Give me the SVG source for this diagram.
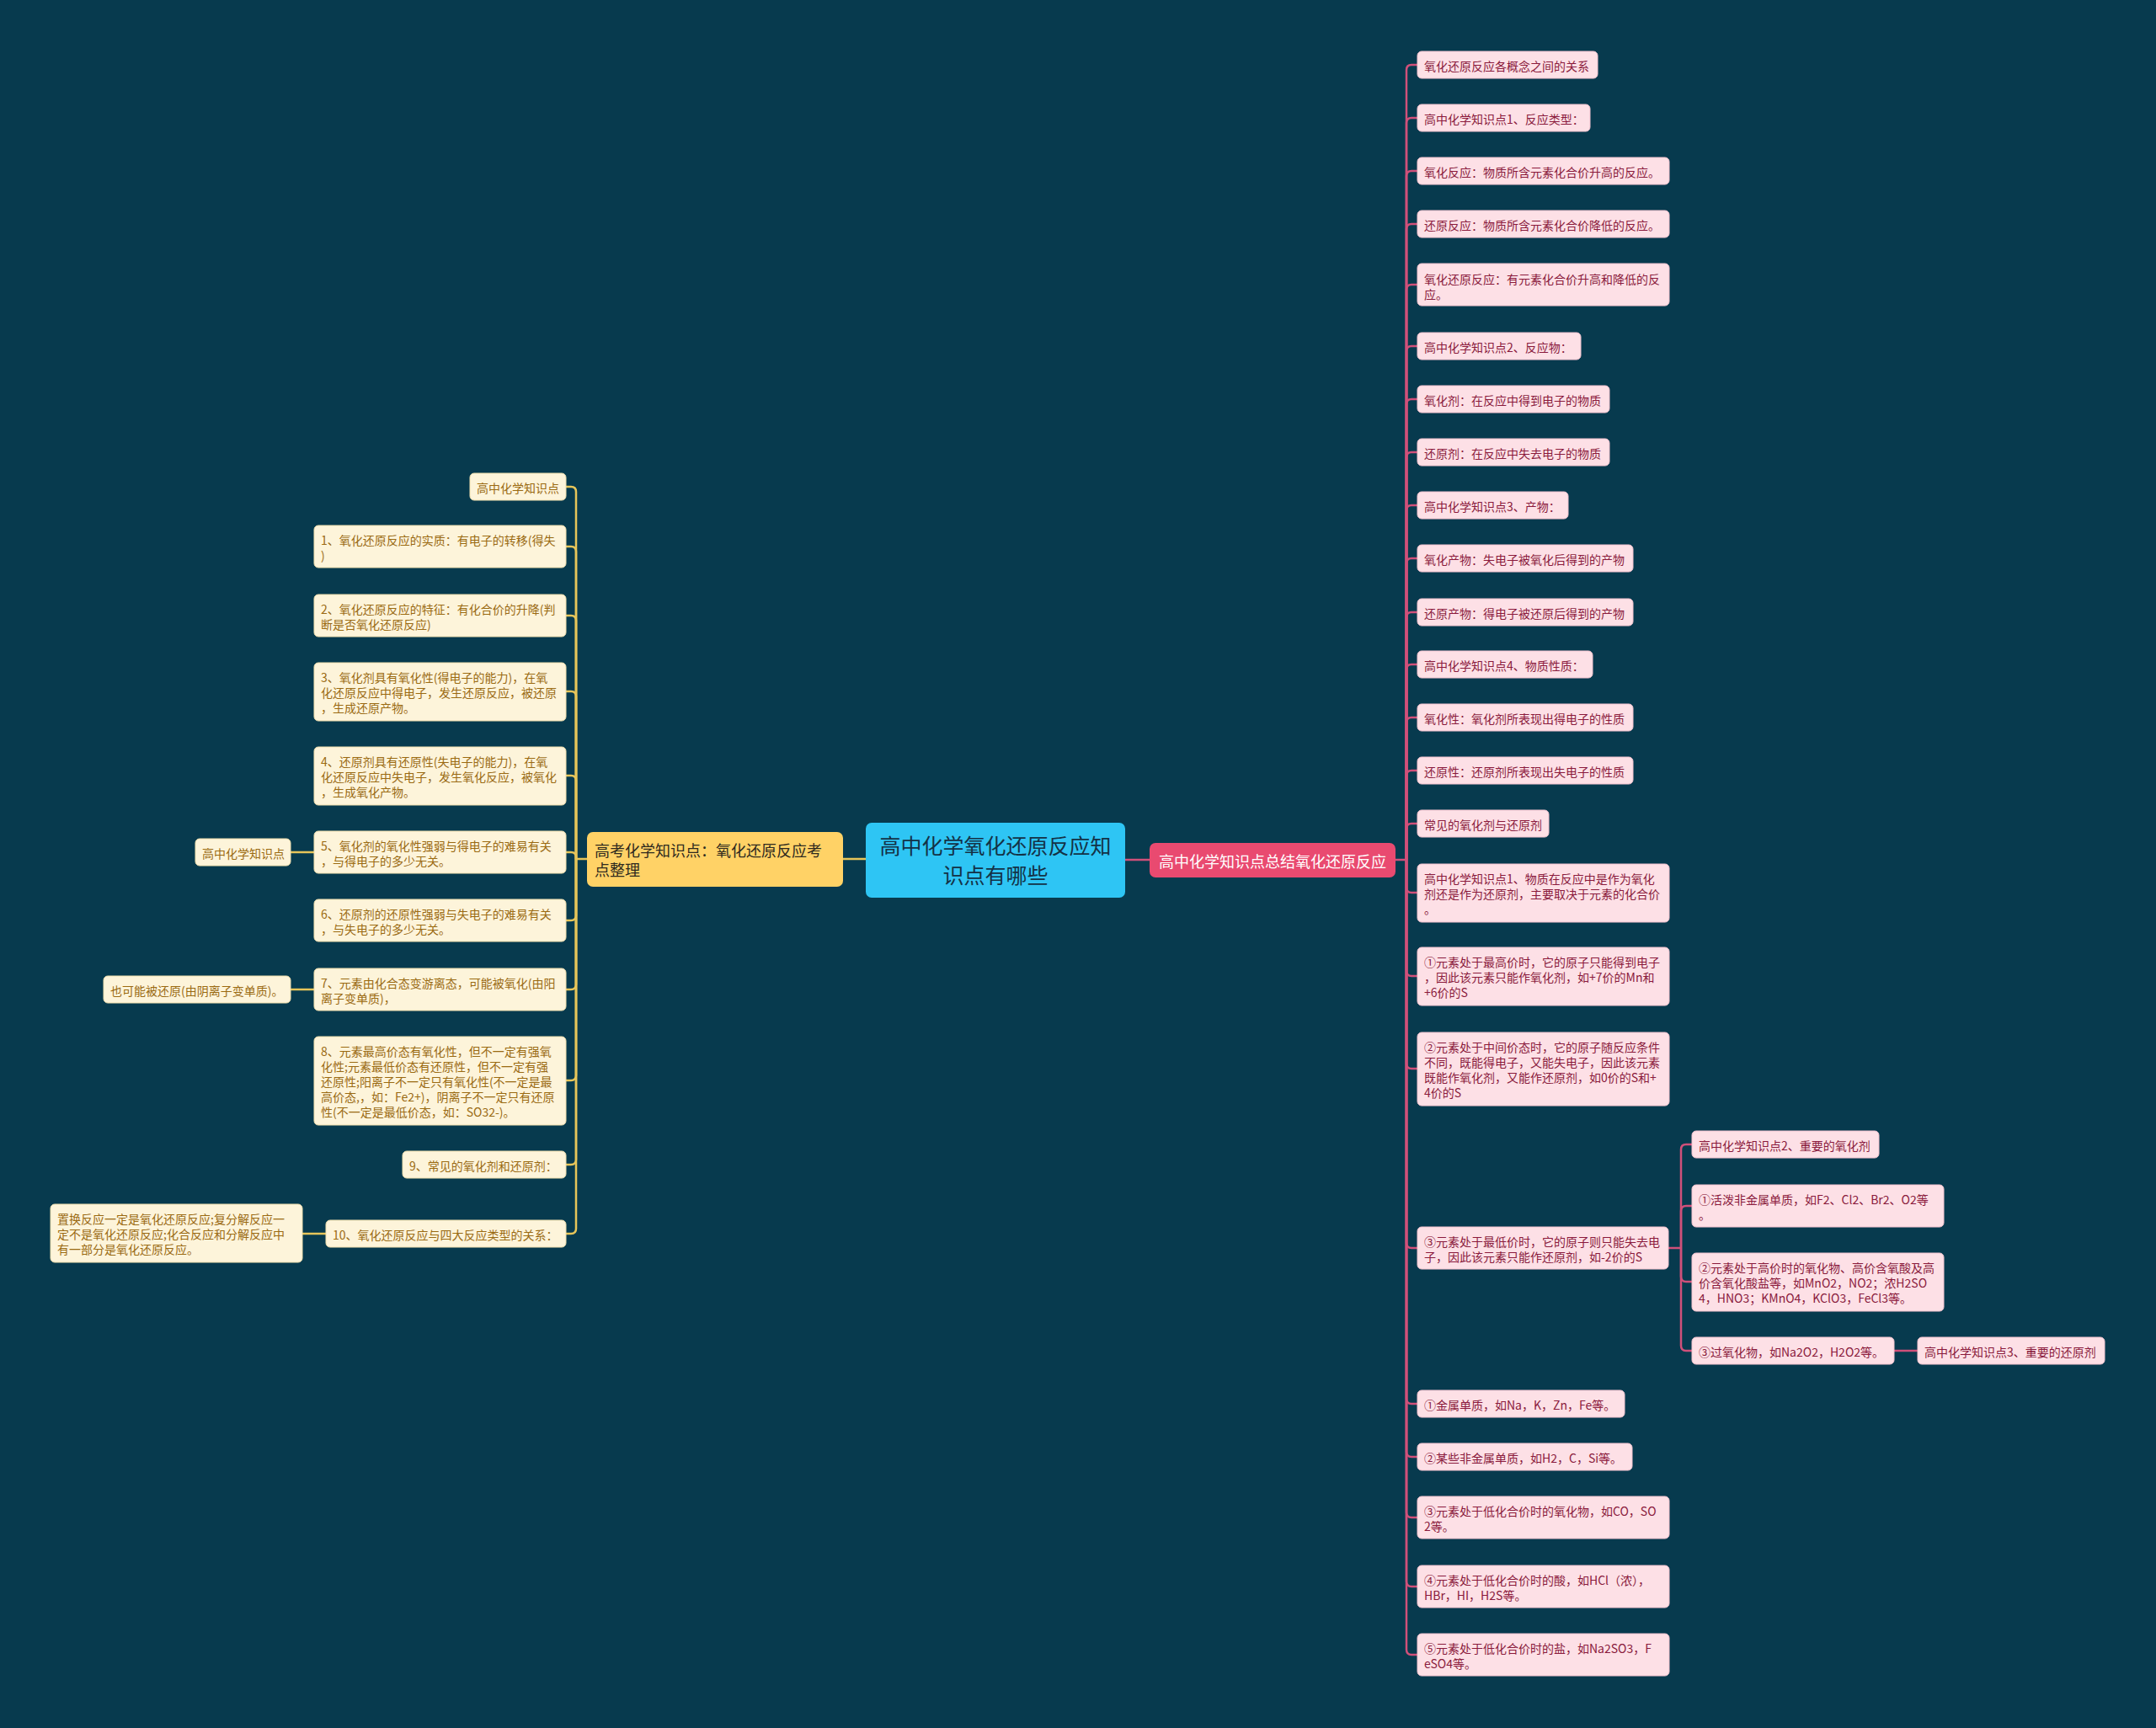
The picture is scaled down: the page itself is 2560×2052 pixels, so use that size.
<svg xmlns="http://www.w3.org/2000/svg" width="2560" height="2052" viewBox="0 0 2560 2052">
<style>
text{font-family:"Noto Sans CJK SC","Noto Sans",sans-serif;dominant-baseline:central}
.rn rect{fill:#fde0e6;stroke:#f3c3cf;stroke-width:1}
.rn text{fill:#8a1a3c;font-size:14px}
.ln rect{fill:#fdf4da;stroke:#f0dfae;stroke-width:1}
.ln text{fill:#9a6a12;font-size:14px}
.cr{fill:none;stroke:#d0507a;stroke-width:2.5}
.cl{fill:none;stroke:#e6c55a;stroke-width:2.5}
</style>
<rect x="0" y="0" width="2560" height="2052" fill="#073a4e"/>
<g id="connectors">
<path class="cl" d="M1001 1020 H1028"/>
<path class="cr" d="M1336 1021 H1365"/>
<path class="cr" d="M1657 1021 H1670"/>
<path class="cr" d="M1670 1021 V83 Q1670 77 1676 77 H1683"/>
<path class="cr" d="M1670 1021 V146 Q1670 140 1676 140 H1683"/>
<path class="cr" d="M1670 1021 V209 Q1670 203 1676 203 H1683"/>
<path class="cr" d="M1670 1021 V272 Q1670 266 1676 266 H1683"/>
<path class="cr" d="M1670 1021 V344 Q1670 338 1676 338 H1683"/>
<path class="cr" d="M1670 1021 V417 Q1670 411 1676 411 H1683"/>
<path class="cr" d="M1670 1021 V480 Q1670 474 1676 474 H1683"/>
<path class="cr" d="M1670 1021 V543 Q1670 537 1676 537 H1683"/>
<path class="cr" d="M1670 1021 V606 Q1670 600 1676 600 H1683"/>
<path class="cr" d="M1670 1021 V669 Q1670 663 1676 663 H1683"/>
<path class="cr" d="M1670 1021 V733 Q1670 727 1676 727 H1683"/>
<path class="cr" d="M1670 1021 V795 Q1670 789 1676 789 H1683"/>
<path class="cr" d="M1670 1021 V858 Q1670 852 1676 852 H1683"/>
<path class="cr" d="M1670 1021 V921 Q1670 915 1676 915 H1683"/>
<path class="cr" d="M1670 1021 V984 Q1670 978 1676 978 H1683"/>
<path class="cr" d="M1670 1021 V1054 Q1670 1060 1676 1060 H1683"/>
<path class="cr" d="M1670 1021 V1153 Q1670 1159 1676 1159 H1683"/>
<path class="cr" d="M1670 1021 V1263 Q1670 1269 1676 1269 H1683"/>
<path class="cr" d="M1670 1021 V1476 Q1670 1482 1676 1482 H1683"/>
<path class="cr" d="M1670 1021 V1661 Q1670 1667 1676 1667 H1683"/>
<path class="cr" d="M1670 1021 V1724 Q1670 1730 1676 1730 H1683"/>
<path class="cr" d="M1670 1021 V1796 Q1670 1802 1676 1802 H1683"/>
<path class="cr" d="M1670 1021 V1878 Q1670 1884 1676 1884 H1683"/>
<path class="cr" d="M1670 1021 V1959 Q1670 1965 1676 1965 H1683"/>
<path class="cr" d="M1981 1482 H1996"/>
<path class="cr" d="M1996 1482 V1365 Q1996 1359 2002 1359 H2009"/>
<path class="cr" d="M1996 1482 V1438 Q1996 1432 2002 1432 H2009"/>
<path class="cr" d="M1996 1482 V1516 Q1996 1522 2002 1522 H2009"/>
<path class="cr" d="M1996 1482 V1598 Q1996 1604 2002 1604 H2009"/>
<path class="cr" d="M2249 1604 H2277"/>
<path class="cl" d="M697 1020 H684"/>
<path class="cl" d="M684 1020 V584 Q684 578 678 578 H672"/>
<path class="cl" d="M684 1020 V655 Q684 649 678 649 H672"/>
<path class="cl" d="M684 1020 V737 Q684 731 678 731 H672"/>
<path class="cl" d="M684 1020 V827 Q684 821 678 821 H672"/>
<path class="cl" d="M684 1020 V927 Q684 921 678 921 H672"/>
<path class="cl" d="M684 1020 V1018 Q684 1012 678 1012 H672"/>
<path class="cl" d="M684 1020 V1087 Q684 1093 678 1093 H672"/>
<path class="cl" d="M684 1020 V1169 Q684 1175 678 1175 H672"/>
<path class="cl" d="M684 1020 V1277 Q684 1283 678 1283 H672"/>
<path class="cl" d="M684 1020 V1377 Q684 1383 678 1383 H672"/>
<path class="cl" d="M684 1020 V1459 Q684 1465 678 1465 H672"/>
<path class="cl" d="M373 1012 H345"/>
<path class="cl" d="M373 1175 H345"/>
<path class="cl" d="M387 1465 H359"/>
</g>
<g id="center"><rect x="1028" y="977" width="308" height="89" rx="7" fill="#2ec5f4"/>
<text x="1182" y="1003" font-size="25" fill="#143246" text-anchor="middle">高中化学氧化还原反应知</text>
<text x="1182" y="1038" font-size="25" fill="#143246" text-anchor="middle">识点有哪些</text></g>
<g id="main-right"><rect x="1365" y="1001" width="292" height="41" rx="7" fill="#e94a70"/>
<text x="1511" y="1021.5" font-size="18" fill="#ffffff" text-anchor="middle">高中化学知识点总结氧化还原反应</text></g>
<g id="main-left"><rect x="697" y="988" width="304" height="65" rx="7" fill="#ffd266"/>
<text x="706" y="1009" font-size="18" fill="#2e2a1e">高考化学知识点：氧化还原反应考</text>
<text x="706" y="1032" font-size="18" fill="#2e2a1e">点整理</text></g>
<g id="r1" class="rn"><rect x="1683" y="61" width="214" height="32" rx="5"/><text x="1691" y="77.5">氧化还原反应各概念之间的关系</text></g>
<g id="r2" class="rn"><rect x="1683" y="124" width="205" height="32" rx="5"/><text x="1691" y="140.5">高中化学知识点1、反应类型：</text></g>
<g id="r3" class="rn"><rect x="1683" y="187" width="299" height="32" rx="5"/><text x="1691" y="203.5">氧化反应：物质所含元素化合价升高的反应。</text></g>
<g id="r4" class="rn"><rect x="1683" y="250" width="299" height="32" rx="5"/><text x="1691" y="266.5">还原反应：物质所含元素化合价降低的反应。</text></g>
<g id="r5" class="rn"><rect x="1683" y="313" width="299" height="50" rx="5"/><text x="1691" y="330.5">氧化还原反应：有元素化合价升高和降低的反</text><text x="1691" y="348.5">应。</text></g>
<g id="r6" class="rn"><rect x="1683" y="395" width="194" height="32" rx="5"/><text x="1691" y="411.5">高中化学知识点2、反应物：</text></g>
<g id="r7" class="rn"><rect x="1683" y="458" width="228" height="32" rx="5"/><text x="1691" y="474.5">氧化剂：在反应中得到电子的物质</text></g>
<g id="r8" class="rn"><rect x="1683" y="521" width="228" height="32" rx="5"/><text x="1691" y="537.5">还原剂：在反应中失去电子的物质</text></g>
<g id="r9" class="rn"><rect x="1683" y="584" width="179" height="32" rx="5"/><text x="1691" y="600.5">高中化学知识点3、产物：</text></g>
<g id="r10" class="rn"><rect x="1683" y="647" width="256" height="32" rx="5"/><text x="1691" y="663.5">氧化产物：失电子被氧化后得到的产物</text></g>
<g id="r11" class="rn"><rect x="1683" y="711" width="256" height="32" rx="5"/><text x="1691" y="727.5">还原产物：得电子被还原后得到的产物</text></g>
<g id="r12" class="rn"><rect x="1683" y="773" width="208" height="32" rx="5"/><text x="1691" y="789.5">高中化学知识点4、物质性质：</text></g>
<g id="r13" class="rn"><rect x="1683" y="836" width="256" height="32" rx="5"/><text x="1691" y="852.5">氧化性：氧化剂所表现出得电子的性质</text></g>
<g id="r14" class="rn"><rect x="1683" y="899" width="256" height="32" rx="5"/><text x="1691" y="915.5">还原性：还原剂所表现出失电子的性质</text></g>
<g id="r15" class="rn"><rect x="1683" y="962" width="156" height="32" rx="5"/><text x="1691" y="978.5">常见的氧化剂与还原剂</text></g>
<g id="r16" class="rn"><rect x="1683" y="1026" width="299" height="69" rx="5"/><text x="1691" y="1043">高中化学知识点1、物质在反应中是作为氧化</text><text x="1691" y="1061">剂还是作为还原剂，主要取决于元素的化合价</text><text x="1691" y="1079">。</text></g>
<g id="r17" class="rn"><rect x="1683" y="1125" width="299" height="69" rx="5"/><text x="1691" y="1142">①元素处于最高价时，它的原子只能得到电子</text><text x="1691" y="1160">，因此该元素只能作氧化剂，如+7价的Mn和</text><text x="1691" y="1178">+6价的S</text></g>
<g id="r18" class="rn"><rect x="1683" y="1226" width="299" height="87" rx="5"/><text x="1691" y="1243">②元素处于中间价态时，它的原子随反应条件</text><text x="1691" y="1261">不同，既能得电子，又能失电子，因此该元素</text><text x="1691" y="1279">既能作氧化剂，又能作还原剂，如0价的S和+</text><text x="1691" y="1297">4价的S</text></g>
<g id="r19" class="rn"><rect x="1683" y="1457" width="298" height="50" rx="5"/><text x="1691" y="1474">③元素处于最低价时，它的原子则只能失去电</text><text x="1691" y="1492">子，因此该元素只能作还原剂，如-2价的S</text></g>
<g id="s1" class="rn"><rect x="2009" y="1343" width="222" height="32" rx="5"/><text x="2017" y="1359.5">高中化学知识点2、重要的氧化剂</text></g>
<g id="s2" class="rn"><rect x="2009" y="1407" width="299" height="50" rx="5"/><text x="2017" y="1424">①活泼非金属单质，如F2、Cl2、Br2、O2等</text><text x="2017" y="1442">。</text></g>
<g id="s3" class="rn"><rect x="2009" y="1488" width="299" height="69" rx="5"/><text x="2017" y="1505">②元素处于高价时的氧化物、高价含氧酸及高</text><text x="2017" y="1523">价含氧化酸盐等，如MnO2，NO2；浓H2SO</text><text x="2017" y="1541">4，HNO3；KMnO4，KClO3，FeCl3等。</text></g>
<g id="s4" class="rn"><rect x="2009" y="1588" width="240" height="32" rx="5"/><text x="2017" y="1604.5">③过氧化物，如Na2O2，H2O2等。</text></g>
<g id="s5" class="rn"><rect x="2277" y="1588" width="222" height="32" rx="5"/><text x="2285" y="1604.5">高中化学知识点3、重要的还原剂</text></g>
<g id="r20" class="rn"><rect x="1683" y="1651" width="246" height="32" rx="5"/><text x="1691" y="1667.5">①金属单质，如Na，K，Zn，Fe等。</text></g>
<g id="r21" class="rn"><rect x="1683" y="1714" width="255" height="32" rx="5"/><text x="1691" y="1730.5">②某些非金属单质，如H2，C，Si等。</text></g>
<g id="r22" class="rn"><rect x="1683" y="1777" width="299" height="50" rx="5"/><text x="1691" y="1794">③元素处于低化合价时的氧化物，如CO，SO</text><text x="1691" y="1812">2等。</text></g>
<g id="r23" class="rn"><rect x="1683" y="1859" width="299" height="50" rx="5"/><text x="1691" y="1876">④元素处于低化合价时的酸，如HCl（浓），</text><text x="1691" y="1894">HBr，HI，H2S等。</text></g>
<g id="r24" class="rn"><rect x="1683" y="1940" width="299" height="50" rx="5"/><text x="1691" y="1957">⑤元素处于低化合价时的盐，如Na2SO3，F</text><text x="1691" y="1975">eSO4等。</text></g>
<g id="l1" class="ln"><rect x="558" y="562" width="114" height="32" rx="5"/><text x="566" y="578.5">高中化学知识点</text></g>
<g id="l2" class="ln"><rect x="373" y="624" width="299" height="50" rx="5"/><text x="381" y="641">1、氧化还原反应的实质：有电子的转移(得失</text><text x="381" y="659">)</text></g>
<g id="l3" class="ln"><rect x="373" y="706" width="299" height="50" rx="5"/><text x="381" y="723">2、氧化还原反应的特征：有化合价的升降(判</text><text x="381" y="741">断是否氧化还原反应)</text></g>
<g id="l4" class="ln"><rect x="373" y="787" width="299" height="69" rx="5"/><text x="381" y="804">3、氧化剂具有氧化性(得电子的能力)，在氧</text><text x="381" y="822">化还原反应中得电子，发生还原反应，被还原</text><text x="381" y="840">，生成还原产物。</text></g>
<g id="l5" class="ln"><rect x="373" y="887" width="299" height="69" rx="5"/><text x="381" y="904">4、还原剂具有还原性(失电子的能力)，在氧</text><text x="381" y="922">化还原反应中失电子，发生氧化反应，被氧化</text><text x="381" y="940">，生成氧化产物。</text></g>
<g id="l6" class="ln"><rect x="373" y="987" width="299" height="50" rx="5"/><text x="381" y="1004">5、氧化剂的氧化性强弱与得电子的难易有关</text><text x="381" y="1022">，与得电子的多少无关。</text></g>
<g id="l6a" class="ln"><rect x="232" y="996" width="113" height="32" rx="5"/><text x="240" y="1012.5">高中化学知识点</text></g>
<g id="l7" class="ln"><rect x="373" y="1068" width="299" height="50" rx="5"/><text x="381" y="1085">6、还原剂的还原性强弱与失电子的难易有关</text><text x="381" y="1103">，与失电子的多少无关。</text></g>
<g id="l8" class="ln"><rect x="373" y="1150" width="299" height="50" rx="5"/><text x="381" y="1167">7、元素由化合态变游离态，可能被氧化(由阳</text><text x="381" y="1185">离子变单质)，</text></g>
<g id="l8a" class="ln"><rect x="123" y="1159" width="222" height="32" rx="5"/><text x="131" y="1175.5">也可能被还原(由阴离子变单质)。</text></g>
<g id="l9" class="ln"><rect x="373" y="1231" width="299" height="105" rx="5"/><text x="381" y="1248">8、元素最高价态有氧化性，但不一定有强氧</text><text x="381" y="1266">化性;元素最低价态有还原性，但不一定有强</text><text x="381" y="1284">还原性;阳离子不一定只有氧化性(不一定是最</text><text x="381" y="1302">高价态,，如：Fe2+)，阴离子不一定只有还原</text><text x="381" y="1320">性(不一定是最低价态，如：SO32-)。</text></g>
<g id="l10" class="ln"><rect x="478" y="1367" width="194" height="32" rx="5"/><text x="486" y="1383.5">9、常见的氧化剂和还原剂：</text></g>
<g id="l11" class="ln"><rect x="387" y="1449" width="285" height="32" rx="5"/><text x="395" y="1465.5">10、氧化还原反应与四大反应类型的关系：</text></g>
<g id="l11a" class="ln"><rect x="60" y="1430" width="299" height="69" rx="5"/><text x="68" y="1447">置换反应一定是氧化还原反应;复分解反应一</text><text x="68" y="1465">定不是氧化还原反应;化合反应和分解反应中</text><text x="68" y="1483">有一部分是氧化还原反应。</text></g>
</svg>
